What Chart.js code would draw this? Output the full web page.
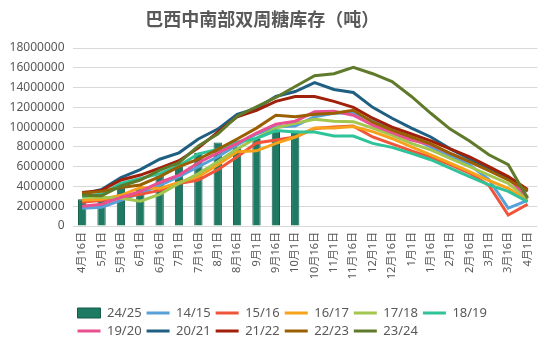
<!DOCTYPE html>
<html>
<head>
<meta charset="utf-8">
<script src="https://cdn.jsdelivr.net/npm/chart.js@4.4.1/dist/chart.umd.min.js"></script>
<style>
  body { margin: 0; background: #fff; }
  #wrap { width: 547px; height: 351px; }
</style>
</head>
<body>
<div id="wrap"><canvas id="stock-chart"></canvas></div>
<script>
const periods = ['4月16日', '5月1日', '5月16日', '6月1日', '6月16日', '7月1日', '7月16日', '8月1日',
    '8月16日', '9月1日', '9月16日', '10月1日', '10月16日', '11月1日', '11月16日', '12月1日',
    '12月16日', '1月1日', '1月16日', '2月1日', '2月16日', '3月1日', '3月16日', '4月1日'];
const seasons = ['24/25', '14/15', '15/16', '16/17', '17/18', '18/19', '19/20', '20/21', '21/22', '22/23', '23/24'];
const yTicks = [0, 2000000, 4000000, 6000000, 8000000, 10000000, 12000000, 14000000, 16000000, 18000000];

// 吨
const stock2425 = [2700000, 2950000, 3900000, 3800000, 5100000, 6350000, 7400000, 8450000, 8000000, 8800000, 9550000, 9650000];
const stock1415 = [1800000, 1900000, 2600000, 3300000, 4100000, 5000000, 6000000, 7000000, 8200000, 9300000, 10000000, 10100000,
    11050000, 11400000, 11450000, 10600000, 9800000, 8900000, 8000000, 7100000, 6200000, 4700000, 1800000, 2600000];
const stock1516 = [2400000, 2600000, 2900000, 3200000, 3600000, 4300000, 4650000, 5700000, 7000000, 8400000, 8700000, 9000000,
    9850000, 10000000, 10100000, 9000000, 8300000, 7600000, 6950000, 6200000, 5350000, 4100000, 1100000, 2200000];
const stock1617 = [2600000, 2700000, 3100000, 3900000, 3800000, 4400000, 5000000, 6200000, 7500000, 7600000, 8350000, 9000000,
    9900000, 9900000, 10050000, 9550000, 8850000, 8000000, 7200000, 6350000, 5500000, 4600000, 3800000, 2600000];
const stock1718 = [2900000, 2900000, 2800000, 2500000, 3200000, 4300000, 5300000, 6500000, 7800000, 8900000, 9900000, 10400000,
    10800000, 10600000, 10550000, 9900000, 9200000, 8350000, 7700000, 6850000, 6000000, 5150000, 4300000, 2800000];
const stock1819 = [3000000, 3200000, 4300000, 4800000, 5300000, 6100000, 7300000, 7750000, 8500000, 8850000, 9650000, 9500000,
    9500000, 9100000, 9100000, 8350000, 7950000, 7350000, 6700000, 5850000, 5000000, 4150000, 3500000, 2450000];
const stock1920 = [2000000, 2200000, 2900000, 3500000, 4400000, 5150000, 6400000, 7400000, 8350000, 9400000, 10300000, 10600000,
    11550000, 11600000, 11200000, 10200000, 9450000, 8700000, 8200000, 7350000, 6500000, 5650000, 4800000, 2950000];
const stock2021 = [3200000, 3700000, 4900000, 5700000, 6750000, 7400000, 8800000, 9800000, 11300000, 11900000, 13100000, 13600000,
    14500000, 13800000, 13500000, 12000000, 10900000, 9900000, 9000000, 7800000, 6800000, 5800000, 4900000, 3500000];
const stock2122 = [3400000, 3600000, 4650000, 5150000, 5850000, 6600000, 7900000, 9500000, 11050000, 11700000, 12600000, 13100000,
    13100000, 12600000, 12000000, 10900000, 10000000, 9300000, 8600000, 7800000, 7000000, 6000000, 5000000, 3700000];
const stock2223 = [3300000, 3500000, 3900000, 4150000, 5000000, 6000000, 6750000, 7750000, 8800000, 9900000, 11200000, 11050000,
    11300000, 11400000, 11700000, 10500000, 9700000, 9000000, 8300000, 7350000, 6500000, 5600000, 4650000, 3600000];
const stock2324 = [3100000, 3050000, 4050000, 4650000, 5650000, 6400000, 8100000, 9300000, 11100000, 12050000, 13000000, 14100000,
    15200000, 15400000, 16050000, 15400000, 14600000, 13100000, 11400000, 9800000, 8600000, 7200000, 6200000, 2800000];

const lineSeries = [stock1415, stock1516, stock1617, stock1718, stock1819, stock1920, stock2021, stock2122, stock2223, stock2324];
const lineColors = ['#58a0d8', '#f0553a', '#f7a21b', '#a2c64e', '#2fc39a', '#e8508f', '#1f5f82', '#a0200a', '#9a5f00', '#5f7a2a'];

const textColor = '#595959';
const latin = '"Noto Sans", "Noto Sans CJK SC", sans-serif';

document.addEventListener("DOMContentLoaded", function () {
    const datasets = [{
        type: 'bar',
        label: seasons[0],
        data: stock2425,
        backgroundColor: '#1f7a63',
        borderColor: '#155a48',
        borderWidth: 1,
        barPercentage: 0.43,
        categoryPercentage: 1,
        pointStyle: 'rect',
        order: 20
    }];
    lineSeries.forEach((values, i) => {
        datasets.push({
            type: 'line',
            label: seasons[i + 1],
            data: values,
            borderColor: lineColors[i],
            backgroundColor: lineColors[i],
            borderWidth: 3,
            pointRadius: 0,
            pointHoverRadius: 0,
            pointStyle: 'line',
            tension: 0,
            fill: false,
            order: 10 - i
        });
    });

    // title sits a little left of the canvas centre in the original
    const shiftTitle = {
        id: 'shiftTitle',
        afterLayout(chart) {
            chart.titleBlock.right -= 22;
        }
    };

    const ctx = document.getElementById('stock-chart').getContext('2d');
    new Chart(ctx, {
        data: { labels: periods, datasets: datasets },
        plugins: [shiftTitle],
        options: {
            responsive: true,
            maintainAspectRatio: false,
            animation: false,
            layout: { padding: { left: 8, right: 8.5, top: 0, bottom: 3.5 } },
            plugins: {
                title: {
                    display: true,
                    text: '巴西中南部双周糖库存（吨）',
                    color: textColor,
                    font: { family: '"Noto Sans CJK SC", sans-serif', size: 18, weight: 'bold' },
                    padding: { top: 8, bottom: 18.4 }
                },
                legend: {
                    position: 'bottom',
                    align: 'start',
                    fullSize: false,
                    labels: {
                        usePointStyle: true,
                        pointStyleWidth: 23,
                        boxHeight: 10,
                        padding: 5,
                        color: textColor,
                        font: { family: latin, size: 13 },
                        sort: (a, b) => a.datasetIndex - b.datasetIndex
                    }
                },
                tooltip: { enabled: false }
            },
            scales: {
                x: {
                    type: 'category',
                    grid: { display: false, drawTicks: false },
                    border: { display: false },
                    ticks: {
                        autoSkip: false,
                        minRotation: 90,
                        maxRotation: 90,
                        padding: 6,
                        color: textColor,
                        font: { family: latin, size: 11 }
                    },
                    afterFit(scale) { scale.height = 75.5; }
                },
                y: {
                    min: yTicks[0],
                    max: yTicks[yTicks.length - 1],
                    grid: { color: '#d9d9d9', drawTicks: false },
                    border: { display: false },
                    afterBuildTicks(scale) { scale.ticks = yTicks.map(v => ({ value: v })); },
                    ticks: {
                        padding: 8,
                        color: textColor,
                        font: { family: latin, size: 12 },
                        callback: value => String(value)
                    },
                    afterFit(scale) { scale.width = 64.5; }
                }
            }
        }
    });
});
</script>
</body>
</html>
